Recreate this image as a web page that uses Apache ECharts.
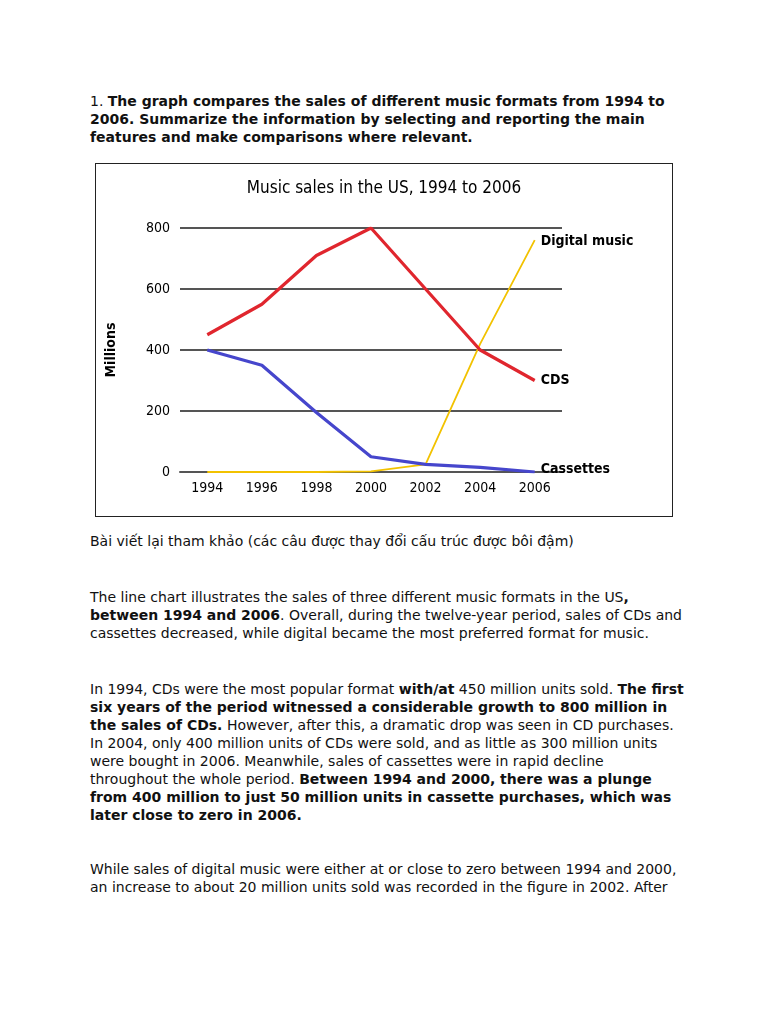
<!DOCTYPE html>
<html>
<head>
<meta charset="utf-8">
<script src="https://cdn.jsdelivr.net/npm/echarts@6/dist/echarts.min.js"></script>
<style>
  html, body { margin:0; padding:0; background:#fff; width:768px; height:1024px; overflow:hidden; }
  body { position:relative; font-family:"DejaVu Sans", sans-serif; font-size:14px; color:#111; }
  .p { position:absolute; left:90px; line-height:18px; white-space:nowrap; }
  b { font-weight:bold; }
  #box { position:absolute; left:95px; top:163px; width:576px; height:352px; border:1.5px solid #222; }
  #chart { width:576px; height:352px; }
</style>
</head>
<body>
<div class="p" style="top:92px">1. <b>The graph compares the sales of different music formats from 1994 to<br>2006. Summarize the information by selecting and reporting the main<br>features and make comparisons where relevant.</b></div>

<div id="box"><div id="chart"></div></div>

<div class="p" style="top:532px">Bài viết lại tham khảo (các câu được thay đổi cấu trúc được bôi đậm)</div>

<div class="p" style="top:588px">The line chart illustrates the sales of three different music formats in the US<b>,</b><br><b>between 1994 and 2006</b>. Overall, during the twelve-year period, sales of CDs and<br>cassettes decreased, while digital became the most preferred format for music.</div>

<div class="p" style="top:680px">In 1994, CDs were the most popular format <b>with/at</b> 450 million units sold. <b>The first</b><br><b>six years of the period witnessed a considerable growth to 800 million in</b><br><b>the sales of CDs.</b> However, after this, a dramatic drop was seen in CD purchases.<br>In 2004, only 400 million units of CDs were sold, and as little as 300 million units<br>were bought in 2006. Meanwhile, sales of cassettes were in rapid decline<br>throughout the whole period. <b>Between 1994 and 2000, there was a plunge</b><br><b>from 400 million to just 50 million units in cassette purchases, which was</b><br><b>later close to zero in 2006.</b></div>

<div class="p" style="top:860px">While sales of digital music were either at or close to zero between 1994 and 2000,<br>an increase to about 20 million units sold was recorded in the figure in 2002. After</div>

<script>
var years = ['1994','1996','1998','2000','2002','2004','2006'];
var cds = [450, 550, 710, 800, 600, 400, 300];
var cassettes = [400, 350, 195, 50, 25, 15, 0];
var digital = [0, 0, 0, 2, 25, 420, 760];
var yTicks = [0, 200, 400, 600, 800];

var chartFont = '"DejaVu Sans Condensed", "Liberation Sans Narrow", sans-serif';
var chart = echarts.init(document.getElementById('chart'));
function endLbl(text, dy) {
  return { show:true, formatter:text, color:'#000', fontFamily:chartFont, fontWeight:'bold', fontSize:14, distance:6, offset:[0, dy] };
}
chart.setOption({
  animation:false,
  title:{ text:'Music sales in the US, 1994 to 2006', left:'center', top:11,
    textStyle:{ fontFamily:chartFont, fontSize:17, fontWeight:'normal', color:'#000' } },
  grid:{ left:84, top:64, width:382, height:244 },
  xAxis:{ type:'category', data:years, boundaryGap:true,
    axisLine:{ show:true, lineStyle:{ color:'#555', width:2 } },
    axisTick:{ show:false },
    axisLabel:{ fontFamily:chartFont, fontSize:14, color:'#000', margin:9 } },
  yAxis:{ type:'value', min:0, max:800, interval:200,
    name:'Millions', nameLocation:'middle', nameGap:62, nameRotate:90,
    nameTextStyle:{ fontFamily:chartFont, fontSize:14, fontWeight:'bold', color:'#000' },
    axisLine:{ show:false }, axisTick:{ show:false },
    axisLabel:{ fontFamily:chartFont, fontSize:14, color:'#000', margin:10,
      formatter:function(v){ return yTicks.indexOf(v) >= 0 ? String(v) : ''; } },
    splitLine:{ lineStyle:{ color:'#555', width:2 } } },
  series:[
    { name:'Digital music', type:'line', data:digital, symbol:'none',
      lineStyle:{ color:'#f2c200', width:1.8 }, endLabel:endLbl('Digital music', 1), z:1 },
    { name:'CDS', type:'line', data:cds, symbol:'none',
      lineStyle:{ color:'#e0262e', width:3.2 }, endLabel:endLbl('CDS', 0), z:3 },
    { name:'Cassettes', type:'line', data:cassettes, symbol:'none',
      lineStyle:{ color:'#4646cc', width:3.2 }, endLabel:endLbl('Cassettes', -3), z:2 }
  ]
});
</script>
</body>
</html>
